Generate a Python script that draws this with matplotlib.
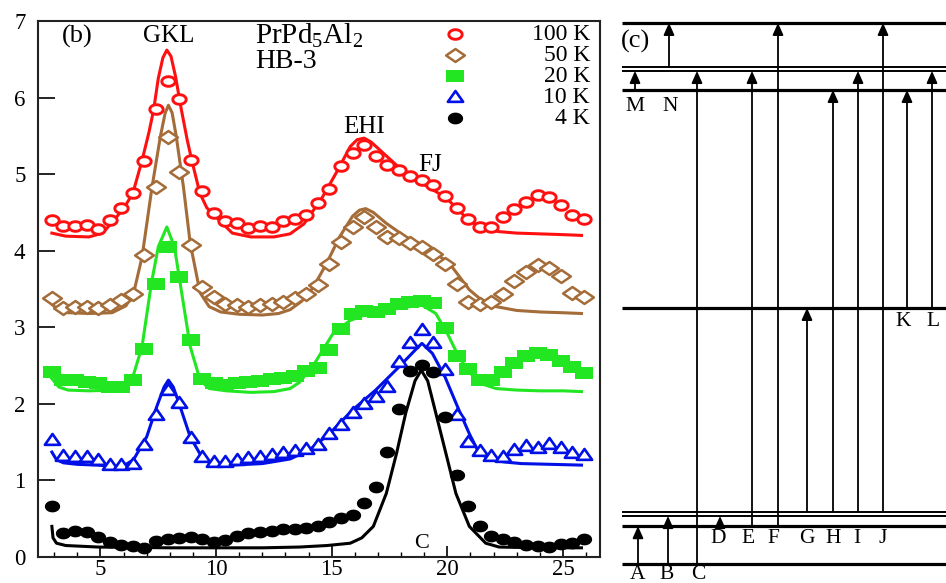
import matplotlib.pyplot as plt
from matplotlib.path import Path
import numpy as np

plt.rcParams['font.family'] = 'Liberation Serif'
plt.rcParams['mathtext.fontset'] = 'custom'
plt.rcParams['mathtext.rm'] = 'Liberation Serif'

# ---------------- panel (b): inelastic spectra (energy transfer, meV)
energy = [2.9, 3.4, 3.9, 4.4, 4.9, 5.4, 5.9, 6.4, 6.9, 7.4, 7.9, 8.4, 8.9, 9.4, 9.9,
          10.4, 10.9, 11.4, 11.9, 12.4, 12.9, 13.4, 13.9, 14.4, 14.9, 15.4, 15.9,
          16.4, 16.9, 17.4, 17.9, 18.4, 18.9, 19.4, 19.9, 20.4, 20.9, 21.4, 21.9,
          22.4, 22.9, 23.4, 23.9, 24.4, 24.9, 25.4, 25.9]

i_100k = [4.40, 4.32, 4.32, 4.33, 4.28, 4.40, 4.56, 4.75, 5.17, 5.85, 6.21, 5.98, 5.18,
          4.78, 4.49, 4.39, 4.36, 4.30, 4.32, 4.31, 4.39, 4.42, 4.46, 4.62, 4.81, 5.10,
          5.28, 5.38, 5.24, 5.12, 5.05, 4.98, 4.92, 4.86, 4.72, 4.56, 4.42, 4.31, 4.31,
          4.44, 4.55, 4.64, 4.73, 4.70, 4.60, 4.47, 4.42]
i_50k = [3.38, 3.25, 3.27, 3.27, 3.25, 3.29, 3.36, 3.44, 3.94, 4.83, 5.48, 5.03, 4.07,
         3.53, 3.40, 3.31, 3.29, 3.27, 3.29, 3.31, 3.33, 3.38, 3.43, 3.55, 3.82, 4.12,
         4.31, 4.44, 4.31, 4.18, 4.16, 4.10, 4.05, 3.96, 3.83, 3.57, 3.33, 3.31, 3.33,
         3.44, 3.60, 3.72, 3.81, 3.78, 3.67, 3.45, 3.40]
i_20k = [2.42, 2.31, 2.31, 2.29, 2.27, 2.22, 2.22, 2.31, 2.72, 3.57, 4.05, 3.66, 2.83,
         2.33, 2.27, 2.25, 2.27, 2.28, 2.30, 2.32, 2.34, 2.37, 2.43, 2.47, 2.70, 2.98,
         3.18, 3.21, 3.20, 3.24, 3.30, 3.33, 3.34, 3.32, 2.99, 2.62, 2.45, 2.31, 2.31,
         2.42, 2.54, 2.63, 2.66, 2.64, 2.56, 2.48, 2.40]
i_10k = [1.53, 1.32, 1.31, 1.30, 1.27, 1.20, 1.20, 1.21, 1.46, 1.85, 2.18, 2.01, 1.55,
         1.31, 1.24, 1.24, 1.27, 1.29, 1.31, 1.33, 1.36, 1.39, 1.41, 1.46, 1.60, 1.73,
         1.88, 2.00, 2.09, 2.22, 2.55, 2.80, 2.96, 2.80, 2.44, 1.85, 1.50, 1.38, 1.32,
         1.31, 1.40, 1.45, 1.43, 1.48, 1.42, 1.36, 1.33]
i_4k = [0.66, 0.31, 0.34, 0.32, 0.26, 0.20, 0.16, 0.14, 0.12, 0.21, 0.24, 0.25, 0.26,
        0.23, 0.19, 0.22, 0.27, 0.31, 0.33, 0.34, 0.36, 0.36, 0.38, 0.41, 0.46, 0.51,
        0.55, 0.70, 0.92, 1.37, 1.93, 2.43, 2.51, 2.42, 1.83, 1.07, 0.66, 0.40, 0.27,
        0.24, 0.19, 0.16, 0.15, 0.13, 0.17, 0.18, 0.24]

# fitted curves
fit_100k_e = [2.9, 3.5, 4.5, 5.1, 5.7, 6.1, 6.4, 6.8, 7.1, 7.3, 7.5, 7.7, 7.87, 8.05, 8.25,
              8.5, 8.75, 8.95, 9.3, 9.6, 10.0, 10.7, 11.5, 12.5, 13.2, 13.8, 14.6, 15.2,
              15.8, 16.1, 16.4, 16.7, 17.1, 17.9, 18.9, 19.9, 20.4, 20.9, 21.5, 22.2,
              23.0, 24.0, 25.0, 25.8]
fit_100k = [4.23, 4.19, 4.18, 4.23, 4.44, 4.60, 4.75, 5.18, 5.55, 5.84, 6.25, 6.52, 6.62,
            6.54, 6.27, 5.84, 5.45, 5.18, 4.75, 4.56, 4.44, 4.23, 4.18, 4.18, 4.22, 4.35,
            4.70, 5.02, 5.36, 5.45, 5.47, 5.42, 5.31, 5.09, 4.88, 4.70, 4.56, 4.40, 4.30,
            4.25, 4.23, 4.22, 4.21, 4.20]
fit_50k_e = [2.9, 3.2, 3.6, 4.5, 5.5, 6.1, 6.43, 6.8, 7.23, 7.59, 7.8, 7.94, 8.1, 8.28,
             8.59, 8.88, 9.31, 9.7, 10.2, 11.0, 12.0, 12.7, 13.2, 13.7, 14.2, 14.77, 15.34,
             15.9, 16.2, 16.47, 16.8, 17.35, 18.2, 19.2, 20.1, 20.95, 21.5, 22.1, 23.0,
             24.0, 25.0, 25.8]
fit_50k = [3.30, 3.22, 3.19, 3.18, 3.19, 3.28, 3.44, 3.92, 4.83, 5.49, 5.80, 5.90, 5.80,
           5.49, 4.83, 4.10, 3.45, 3.27, 3.20, 3.17, 3.16, 3.18, 3.23, 3.34, 3.52, 3.83,
           4.18, 4.45, 4.53, 4.55, 4.50, 4.36, 4.18, 4.03, 3.83, 3.49, 3.35, 3.27, 3.22,
           3.20, 3.19, 3.18]
fit_20k_e = [2.9, 3.2, 3.6, 4.5, 5.7, 6.1, 6.36, 6.8, 7.2, 7.5, 7.87, 8.2, 8.45, 8.88,
             9.31, 9.7, 10.46, 11.5, 12.5, 13.2, 13.6, 14.2, 15.06, 15.8, 16.6, 17.9, 18.9,
             19.5, 20.0, 20.5, 21.0, 21.4, 22.1, 23.0, 24.0, 25.0, 25.8]
fit_20k = [2.33, 2.22, 2.18, 2.17, 2.18, 2.22, 2.31, 2.75, 3.57, 4.05, 4.31, 4.05, 3.57,
           2.75, 2.31, 2.20, 2.17, 2.15, 2.16, 2.20, 2.28, 2.50, 2.92, 3.09, 3.18, 3.25,
           3.29, 3.18, 2.92, 2.61, 2.40, 2.27, 2.20, 2.18, 2.17, 2.17, 2.16]
fit_10k_e = [2.9, 3.1, 3.4, 4.0, 4.9, 5.6, 6.0, 6.43, 7.0, 7.43, 7.75, 7.94, 8.15, 8.45,
             8.88, 9.45, 9.9, 10.7, 12.0, 13.2, 14.05, 14.9, 15.9, 16.9, 17.9, 18.6, 18.9,
             19.35, 19.9, 20.5, 20.95, 21.3, 21.8, 22.5, 23.2, 24.5, 25.8]
fit_10k = [1.37, 1.27, 1.23, 1.21, 1.20, 1.18, 1.19, 1.27, 1.57, 1.96, 2.22, 2.31, 2.22,
           1.96, 1.57, 1.27, 1.21, 1.20, 1.22, 1.28, 1.40, 1.61, 1.92, 2.18, 2.48, 2.70,
           2.79, 2.66, 2.35, 1.92, 1.61, 1.40, 1.27, 1.24, 1.22, 1.21, 1.20]
fit_4k_e = [2.9, 2.95, 3.1, 3.5, 4.9, 8.0, 12.0, 13.6, 14.8, 15.8, 16.3, 16.8, 17.36, 17.8,
            18.2, 18.6, 18.87, 19.15, 19.5, 19.94, 20.37, 20.95, 21.66, 22.24, 24.0, 25.8]
fit_4k = [0.40, 0.25, 0.18, 0.15, 0.13, 0.12, 0.12, 0.13, 0.15, 0.18, 0.25, 0.40, 0.83,
          1.35, 1.88, 2.30, 2.44, 2.30, 1.88, 1.35, 0.83, 0.40, 0.18, 0.13, 0.12, 0.12]

temps = ['100 K', '50 K', '20 K', '10 K', '4 K']

# peak labels: (text, energy, intensity)
peak_labels = [('GKL', 7.93, 6.80), ('EHI', 16.42, 5.61), ('FJ', 19.27, 5.12), ('C', 18.88, 0.18)]

# ---------------- panel (c): level scheme (meV)
levels = [0.0, 1.46, 1.85, 2.00, 9.86, 18.25, 18.98, 19.13, 20.83]
level_thick = [True, True, False, False, True, True, False, False, True]

trans_names = ['A', 'B', 'C', 'D', 'E', 'F', 'G', 'H', 'I', 'J', 'K', 'L', 'M', 'N']
trans_from = [0, 0, 0, 1, 1, 1, 3, 3, 3, 3, 4, 4, 5, 7]
trans_to = [1, 2, 6, 2, 6, 8, 4, 5, 6, 8, 5, 6, 6, 8]
trans_col = [3.8, 6.8, 9.7, 12.0, 15.2, 17.8, 20.7, 23.3, 25.8, 28.3, 30.7, 33.2, 3.5, 6.9]
label_col = [3.8, 6.7, 9.8, 11.8, 14.8, 17.3, 20.7, 23.3, 25.7, 28.3, 30.3, 33.3, 3.5, 7.0]
label_e = [-0.42] * 3 + [0.99] * 7 + [9.32] * 2 + [17.6] * 2


# marker shapes (the original figure is stretched sideways)
def oval(a):
    t = np.linspace(0, 2 * np.pi, 41)
    return Path(np.column_stack([np.cos(t), a * np.sin(t)]), closed=True)


diamond = Path([(-1, 0), (0, 0.69), (1, 0), (0, -0.69), (-1, 0)], closed=True)
rect = Path([(-1, -0.67), (1, -0.67), (1, 0.67), (-1, 0.67), (-1, -0.67)], closed=True)
tri = Path([(-1, -0.57), (1, -0.57), (0, 0.85), (-1, -0.57)], closed=True)

red, brown, green, blue = '#FF1010', '#A46C38', '#22E622', '#0010E6'
styles = [
    dict(marker=oval(0.72), ms=9.6, mfc='white', mec=red, mew=2.1),
    dict(marker=diamond, ms=13.5, mfc='white', mec=brown, mew=1.8),
    dict(marker=rect, ms=12.3, mfc=green, mec=green, mew=0),
    dict(marker=tri, ms=11.0, mfc='white', mec=blue, mew=1.9),
    dict(marker=oval(0.77), ms=11.0, mfc='black', mec='black', mew=0),
]
colors = [red, brown, green, blue, 'black']
series = [i_100k, i_50k, i_20k, i_10k, i_4k]
fits = [(fit_100k_e, fit_100k), (fit_50k_e, fit_50k), (fit_20k_e, fit_20k),
        (fit_10k_e, fit_10k), (fit_4k_e, fit_4k)]

fig = plt.figure(figsize=(9.46, 5.83), dpi=100, facecolor='white')
ax = fig.add_axes([38 / 946, 26 / 583, 562 / 946, 536 / 583])

for (fe, fy), c in zip(fits, colors):
    ax.plot(fe, fy, color=c, lw=2.2, zorder=2)
for y, st in zip(series, styles):
    ax.plot(energy, y, ls='none', zorder=3, **st)

ax.set_xlim(2.3, 26.6)
ax.set_ylim(0, 7)
ax.set_xticks([5, 10, 15, 20, 25])
ax.set_xticks(range(3, 27), minor=True)
ax.set_yticks(range(0, 8))
ax.tick_params(axis='x', which='major', direction='in', length=8, width=1.2,
               labelsize=16.5, pad=1.5)
ax.tick_params(axis='x', which='minor', direction='in', length=3.5, width=1.0)
ax.tick_params(axis='y', direction='in', length=12, width=1.2, labelsize=16.5, pad=9)
for sp in ax.spines.values():
    sp.set_linewidth(1.5)
    sp.set_color('#222222')

# legend drawn by hand: marker, then right-aligned label
for i, (t, st) in enumerate(zip(temps, styles)):
    yy = 0.975 - i * 0.0392
    ax.plot([0.742], [yy], transform=ax.transAxes, ls='none', clip_on=False, **st)
    ax.text(0.982, yy, t, transform=ax.transAxes, ha='right', va='center', fontsize=17)

ax.text(0.069, 0.972, '(b)', transform=ax.transAxes, ha='center', va='center', fontsize=19)
ax.text(0.386, 0.972, r'PrPd$_5$Al$_2$', transform=ax.transAxes, ha='left', va='center',
        fontsize=21)
ax.text(0.386, 0.925, 'HB-3', transform=ax.transAxes, ha='left', va='center', fontsize=20)
for t, xe, yi in peak_labels:
    ax.text(xe, yi, t, ha='center', va='center', fontsize=18 if t != 'C' else 16)

# ---------------- level scheme
ax2 = fig.add_axes([600 / 946, 0, 346 / 946, 1])
ax2.set_xlim(0, 34.6)
ax2.set_ylim(-0.73, 21.71)
ax2.axis('off')

ax2.hlines(levels, 2.2, 34.6, colors='black',
           linewidths=[2.3 if t else 1.4 for t in level_thick])
for x, a, b in zip(trans_col, trans_from, trans_to):
    ax2.annotate('', xy=(x, levels[b]), xytext=(x, levels[a]),
                 arrowprops=dict(arrowstyle='-|>,head_length=0.36,head_width=0.16',
                                 mutation_scale=20, lw=1.3, color='black',
                                 shrinkA=0, shrinkB=0))
for name, x, e in zip(trans_names, label_col, label_e):
    ax2.text(x, e, name, ha='center', va='center', fontsize=15.5)
ax2.text(3.6, 20.1, '(c)', ha='center', va='center', fontsize=19)

fig.savefig('out.png', dpi=100, facecolor='white')
